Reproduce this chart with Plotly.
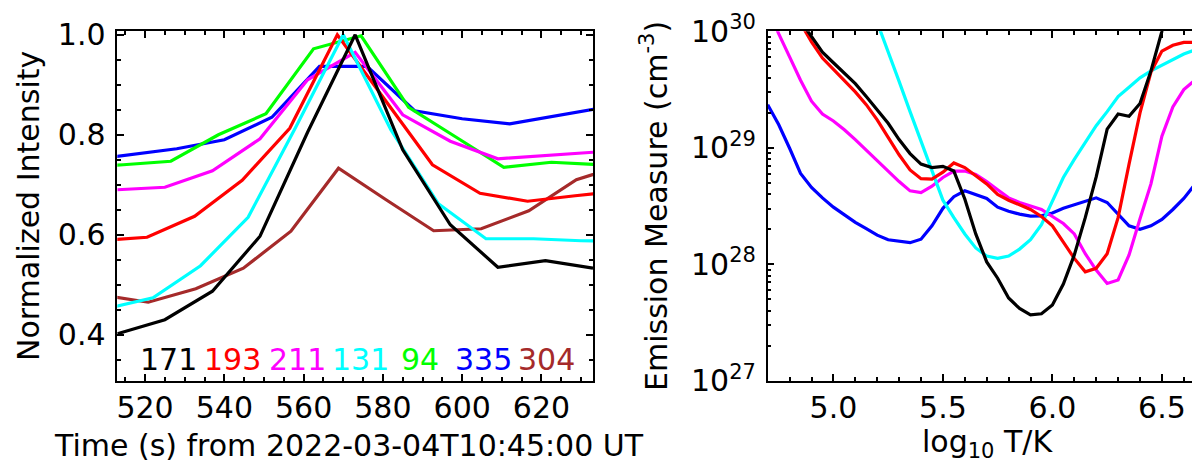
import plotly.graph_objects as go

# --- LEFT PANEL: normalized AIA light curves ---
# time in seconds from 2022-03-04T10:45:00 UT, one list per channel
t_171 = [513, 525, 537, 549, 561, 573, 585, 597, 609, 621, 633]
i_171 = [0.402, 0.430, 0.487, 0.597, 0.805, 1.000, 0.770, 0.620, 0.535, 0.548, 0.533]

t_193 = [508.5, 520.5, 532.5, 544.5, 556.5, 568.5, 580.5, 592.5, 604.5, 616.5, 628.5, 640.5]
i_193 = [0.588, 0.595, 0.637, 0.709, 0.813, 1.000, 0.870, 0.740, 0.683, 0.667, 0.678, 0.688]

t_211 = [513, 525, 537, 549, 561, 573, 585, 597, 609, 621, 633]
i_211 = [0.690, 0.695, 0.728, 0.792, 0.910, 0.965, 0.840, 0.787, 0.752, 0.758, 0.765]

t_131 = [510, 522, 534, 546, 558, 570, 582, 594, 606, 618, 630, 642]
i_131 = [0.452, 0.474, 0.538, 0.635, 0.815, 1.000, 0.810, 0.662, 0.592, 0.592, 0.588, 0.587]

t_94 = [502.5, 514.5, 526.5, 538.5, 550.5, 562.5, 574.5, 586.5, 598.5, 610.5, 622.5, 634.5]
i_94 = [0.735, 0.740, 0.747, 0.800, 0.842, 0.972, 0.998, 0.855, 0.795, 0.735, 0.745, 0.740]

t_335 = [504, 516, 528, 540, 552, 564, 576, 588, 600, 612, 624, 636]
i_335 = [0.748, 0.760, 0.772, 0.790, 0.835, 0.937, 0.937, 0.848, 0.832, 0.822, 0.838, 0.855]

t_304 = [508.8, 520.8, 532.8, 544.8, 556.8, 568.8, 580.8, 592.8, 604.8, 616.8, 628.8, 640.8]
i_304 = [0.480, 0.465, 0.492, 0.533, 0.607, 0.733, 0.670, 0.608, 0.612, 0.648, 0.710, 0.740]

channels = ["171", "193", "211", "131", "94", "335", "304"]
time_ticks = [520, 540, 560, 580, 600, 620]
int_ticks = [0.4, 0.6, 0.8, 1.0]

# --- RIGHT PANEL: EM loci curves, log10 T and log10 EM (cm^-3) ---
logt_171 = [4.85, 4.90, 4.95, 5.00, 5.05, 5.10, 5.15, 5.20, 5.25, 5.30, 5.35, 5.40,
            5.45, 5.50, 5.55, 5.60, 5.65, 5.70, 5.75, 5.80, 5.85, 5.90, 5.95, 6.00,
            6.05, 6.10, 6.15, 6.20, 6.25, 6.30, 6.35, 6.40, 6.45, 6.50, 6.55]
logem_171 = [30.09, 29.95, 29.82, 29.73, 29.64, 29.55, 29.44, 29.33, 29.21, 29.07, 28.95, 28.86,
             28.83, 28.84, 28.80, 28.56, 28.26, 28.02, 27.88, 27.71, 27.62, 27.565, 27.575, 27.65,
             27.83, 28.08, 28.40, 28.75, 29.16, 29.29, 29.27, 29.38, 29.66, 30.00, 30.30]

logt_193 = [4.85, 4.90, 4.95, 5.00, 5.05, 5.10, 5.15, 5.20, 5.25, 5.30, 5.35, 5.40,
            5.45, 5.50, 5.55, 5.60, 5.65, 5.70, 5.75, 5.80, 5.85, 5.90, 5.95, 6.00,
            6.05, 6.10, 6.15, 6.20, 6.25, 6.30, 6.35, 6.40, 6.45, 6.50, 6.55, 6.60,
            6.65, 6.70]
logem_193 = [30.07, 29.91, 29.77, 29.67, 29.58, 29.48, 29.37, 29.24, 29.09, 28.94, 28.81, 28.735,
             28.73, 28.79, 28.87, 28.83, 28.76, 28.69, 28.60, 28.55, 28.51, 28.47, 28.41, 28.33,
             28.19, 28.05, 27.935, 27.965, 28.09, 28.40, 28.86, 29.30, 29.65, 29.83, 29.88, 29.905,
             29.905, 29.877]

logt_211 = [4.70, 4.75, 4.80, 4.85, 4.90, 4.95, 5.00, 5.05, 5.10, 5.15, 5.20, 5.25,
            5.30, 5.35, 5.40, 5.45, 5.50, 5.55, 5.60, 5.65, 5.70, 5.75, 5.80, 5.85,
            5.90, 5.95, 6.00, 6.05, 6.10, 6.15, 6.20, 6.25, 6.30, 6.35, 6.40, 6.45,
            6.50, 6.55, 6.60, 6.65, 6.70]
logem_211 = [30.20, 29.98, 29.78, 29.58, 29.40, 29.29, 29.23, 29.155, 29.07, 28.98, 28.895, 28.80,
             28.71, 28.63, 28.615, 28.67, 28.745, 28.80, 28.80, 28.77, 28.71, 28.64, 28.57, 28.53,
             28.50, 28.47, 28.41, 28.35, 28.26, 28.09, 27.95, 27.835, 27.865, 28.08, 28.39, 28.69,
             29.10, 29.35, 29.50, 29.58, 29.66]

logt_131 = [5.15, 5.20, 5.25, 5.30, 5.35, 5.40, 5.45, 5.50, 5.55, 5.60, 5.65, 5.70,
            5.75, 5.80, 5.85, 5.90, 5.95, 6.00, 6.05, 6.10, 6.15, 6.20, 6.25, 6.30,
            6.35, 6.40, 6.45, 6.50, 6.55, 6.60, 6.65, 6.70]
logem_131 = [30.33, 30.08, 29.82, 29.57, 29.31, 29.06, 28.80, 28.55, 28.40, 28.26, 28.14, 28.07,
             28.05, 28.07, 28.13, 28.21, 28.34, 28.55, 28.745, 28.90, 29.04, 29.19, 29.31, 29.44,
             29.52, 29.60, 29.66, 29.71, 29.76, 29.805, 29.84, 29.866]

logt_335 = [4.70, 4.75, 4.80, 4.85, 4.90, 4.95, 5.00, 5.05, 5.10, 5.15, 5.20, 5.25,
            5.30, 5.35, 5.40, 5.45, 5.50, 5.55, 5.60, 5.65, 5.70, 5.75, 5.80, 5.85,
            5.90, 5.95, 6.00, 6.05, 6.10, 6.15, 6.20, 6.25, 6.30, 6.35, 6.40, 6.45,
            6.50, 6.55, 6.60, 6.65, 6.70]
logem_335 = [29.37, 29.20, 28.996, 28.78, 28.66, 28.57, 28.49, 28.426, 28.36, 28.305, 28.25, 28.21,
             28.195, 28.185, 28.215, 28.33, 28.48, 28.58, 28.63, 28.60, 28.565, 28.49, 28.455, 28.43,
             28.413, 28.415, 28.44, 28.48, 28.51, 28.545, 28.57, 28.53, 28.43, 28.33, 28.30, 28.33,
             28.385, 28.47, 28.565, 28.68, 28.80]

temp_ticks = [5.0, 5.5, 6.0, 6.5]
em_decades = [27, 28, 29, 30]

colors = {"171": "#000000", "193": "#ff0000", "211": "#ff00ff", "131": "#00ffff",
          "94": "#00ff00", "335": "#0000ff", "304": "#a52a2a"}

W, H = 1200, 464
FONT = "DejaVu Sans, Liberation Sans, sans-serif"
FS = 30


def fx(p):
    return p / W


def fy(p):
    return 1 - p / H


fig = go.Figure()

# --- 1. light curves ---
light = {"171": (t_171, i_171), "193": (t_193, i_193), "211": (t_211, i_211),
         "131": (t_131, i_131), "94": (t_94, i_94), "335": (t_335, i_335),
         "304": (t_304, i_304)}
for ch in ["304", "335", "94", "211", "193", "131", "171"]:
    t, v = light[ch]
    fig.add_trace(go.Scatter(x=t, y=v, mode="lines", name=ch, showlegend=False,
                             line=dict(color=colors[ch], width=3.2),
                             xaxis="x", yaxis="y"))

# --- 2. EM loci ---
loci = {"335": (logt_335, logem_335), "211": (logt_211, logem_211),
        "131": (logt_131, logem_131), "193": (logt_193, logem_193),
        "171": (logt_171, logem_171)}
for ch, (lt, le) in loci.items():
    fig.add_trace(go.Scatter(x=lt, y=[10.0 ** v for v in le], mode="lines", name=ch,
                             showlegend=False, line=dict(color=colors[ch], width=3.2),
                             xaxis="x2", yaxis="y2"))

# --- 3. axes ---
tickfont = dict(family=FONT, size=FS, color="black")
axis_style = dict(showline=True, linecolor="black", linewidth=1.5, mirror="ticks",
                  ticks="inside", ticklen=7, tickwidth=1.5, tickcolor="black",
                  showgrid=False, zeroline=False, tickfont=tickfont, automargin=False,
                  ticklabeloverflow="allow")
minor_style = dict(ticks="inside", ticklen=4, tickwidth=1.5, tickcolor="black", showgrid=False)

plot_top, plot_bot = 23.3, 372.7
ydom = [fy(plot_bot), fy(plot_top)]

fig.update_layout(
    xaxis=dict(domain=[fx(109.3), fx(585.0)], range=[513, 633], anchor="y",
               tickmode="array", tickvals=time_ticks, ticklabelstandoff=0,
               minor=dict(dtick=5, tick0=0, **minor_style), **axis_style),
    yaxis=dict(domain=ydom, range=[0.308, 1.007], anchor="x",
               tickmode="array", tickvals=int_ticks,
               ticktext=[f"{v:.1f}" for v in int_ticks], ticklabelstandoff=4,
               minor=dict(dtick=0.05, tick0=0, **minor_style), **axis_style),
    xaxis2=dict(domain=[fx(759.7), fx(1197.7)], range=[4.7, 6.7], anchor="y2",
                tickmode="array", tickvals=temp_ticks,
                ticktext=[f"{v:.1f}" for v in temp_ticks], ticklabelstandoff=0,
                minor=dict(dtick=0.1, tick0=0, **minor_style), **axis_style),
    yaxis2=dict(domain=ydom, type="log", range=[27, 30], anchor="x2",
                tickmode="array", tickvals=[10.0 ** d for d in em_decades],
                ticktext=[f"10<sup>{d}</sup>" for d in em_decades], ticklabelstandoff=4,
                minor=dict(tickmode="array",
                           tickvals=[m * 10.0 ** d for d in em_decades[:-1] for m in range(2, 10)],
                           **minor_style),
                **axis_style),
    width=W, height=H,
    margin=dict(l=0, r=0, t=0, b=0),
    paper_bgcolor="white", plot_bgcolor="white",
    font=dict(family=FONT, size=FS, color="black"),
)

# --- 4. titles and channel labels ---
ann = [
    dict(text="Normalized Intensity", x=fx(20), y=fy(198), textangle=-90),
    dict(text="Time (s) from 2022-03-04T10:45:00 UT", x=fx(341), y=fy(437)),
    dict(text="Emission Measure (cm<sup>-3</sup>)", x=fx(646), y=fy(198), textangle=-90),
    dict(text="log<sub>10</sub> T/K", x=fx(979), y=fy(435)),
]
label_x = [160, 224, 289, 352, 412, 475, 538]
for ch, lx in zip(channels, label_x):
    ann.append(dict(text=ch, x=fx(lx), y=fy(351), font=dict(family=FONT, size=FS, color=colors[ch])))
for a in ann:
    a.update(xref="paper", yref="paper", showarrow=False, xanchor="center", yanchor="middle")
    a.setdefault("font", dict(family=FONT, size=FS, color="black"))
fig.update_layout(annotations=ann)

fig.write_html("out.html")
